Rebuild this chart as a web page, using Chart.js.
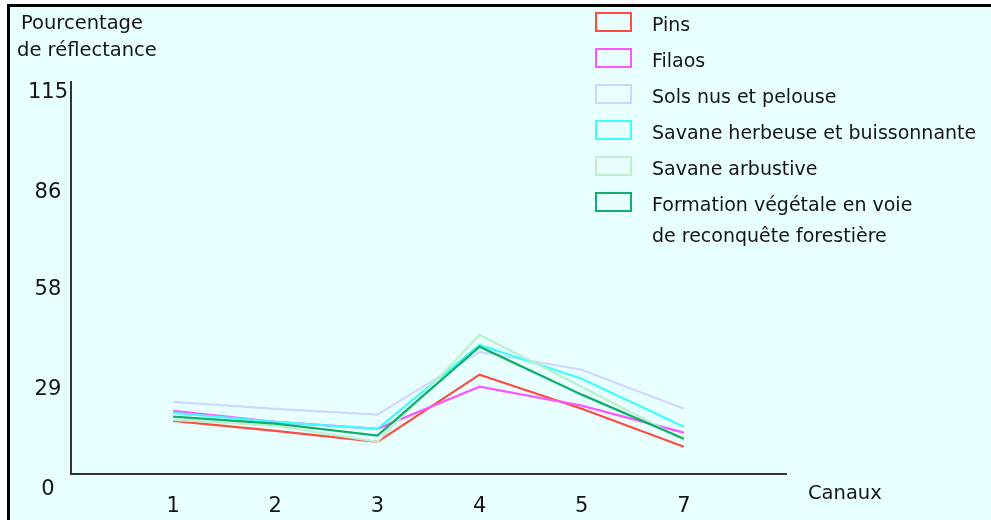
<!DOCTYPE html>
<html>
<head>
<meta charset="utf-8">
<script src="https://cdn.jsdelivr.net/npm/chart.js@4"></script>
<style>
    body { margin: 0; background: #fff; width: 991px; height: 520px; overflow: hidden; font-family: "DejaVu Sans", sans-serif; color: #151515; }
    #frame { position: absolute; left: 7px; top: 4px; width: 990px; height: 520px; border-left: 3px solid #000; border-top: 3px solid #000; background: #e8ffff; }
    #chart-wrapper { position: absolute; left: 0; top: 0; width: 991px; height: 520px; }
    .txt { position: absolute; font-size: 19.5px; line-height: 27px; white-space: nowrap; }
    #legend { position: absolute; left: 595px; top: 12px; }
    .row { display: flex; align-items: flex-start; margin-bottom: 8px; }
    .box { width: 37px; height: 20px; box-sizing: border-box; border: 2px solid; flex: none; }
    .label { margin-left: 20px; font-size: 19px; line-height: 31px; margin-top: -3px; }
</style>
</head>
<body>
<div id="frame"></div>
<div id="chart-wrapper"><canvas id="chart" width="991" height="520"></canvas></div>
<div class="txt" style="left:21px; top:9px;">Pourcentage</div>
<div class="txt" style="left:17px; top:36px;">de réflectance</div>
<div class="txt" style="left:808px; top:479px;">Canaux</div>
<div id="legend"></div>
<script>
// canaux (axe des x)
var channels = ['1', '2', '3', '4', '5', '7'];
var yTicks = [0, 29, 58, 86, 115];

var seriesNames = [
    'Pins',
    'Filaos',
    'Sols nus et pelouse',
    'Savane herbeuse et buissonnante',
    'Savane arbustive',
    'Formation végétale en voie\nde reconquête forestière'
];
var seriesColors = ['#ff4a3d', '#ff55ff', '#d0d7ff', '#3ffcff', '#bdf0cf', '#0fae6a'];

// pourcentage de réflectance par canal
var pins       = [18.8, 15.9, 12.7, 32.2, 22.3, 11.3];
var filaos     = [21.7, 18.5, 16.5, 28.7, 23.2, 15.4];
var solsNus    = [24.3, 22.3, 20.6, 38.8, 33.6, 22.3];
var savaneHerb = [21.1, 18.5, 16.5, 40.8, 31.0, 17.1];
var savaneArb  = [19.1, 17.4, 12.7, 43.7, 28.7, 13.3];
var formation  = [20.0, 18.0, 14.5, 40.3, 26.4, 13.6];

var allSeries = [pins, filaos, solsNus, savaneHerb, savaneArb, formation];

var datasets = [];
for (var i = 0; i < allSeries.length; i++) {
    datasets.push({
        label: seriesNames[i],
        data: allSeries[i].map(function(v, k) { return {x: k + 1, y: v}; }),
        borderColor: seriesColors[i],
        backgroundColor: seriesColors[i],
        borderWidth: 2.2,
        pointRadius: 0,
        tension: 0,
        fill: false,
        order: allSeries.length - i
    });
}

// legende en html
var legend = document.getElementById('legend');
for (var j = 0; j < seriesNames.length; j++) {
    var row = document.createElement('div');
    row.className = 'row';
    var box = document.createElement('div');
    box.className = 'box';
    box.style.borderColor = seriesColors[j];
    var lab = document.createElement('div');
    lab.className = 'label';
    lab.innerHTML = seriesNames[j].replace('\n', '<br>');
    row.appendChild(box);
    row.appendChild(lab);
    legend.appendChild(row);
}

var ctx = document.getElementById('chart');
var chart = new Chart(ctx, {
    type: 'line',
    data: { datasets: datasets },
    options: {
        responsive: false,
        animation: false,
        events: [],
        layout: { padding: { left: 0, top: 82, right: 205, bottom: 0 } },
        plugins: { legend: { display: false }, tooltip: { enabled: false } },
        scales: {
            x: {
                type: 'linear',
                min: 0,
                max: 7,
                afterBuildTicks: function(scale) {
                    scale.ticks = channels.map(function(c, k) { return {value: k + 1}; });
                },
                afterFit: function(scale) { scale.height = 46; },
                ticks: {
                    color: '#151515',
                    padding: 20,
                    font: { family: 'DejaVu Sans', size: 21 },
                    callback: function(v) { return channels[v - 1]; }
                },
                grid: { display: false, drawTicks: false },
                border: { display: true, color: '#333', width: 2 }
            },
            y: {
                type: 'linear',
                min: 3.4,
                max: 117.0,
                afterBuildTicks: function(scale) {
                    scale.ticks = yTicks.map(function(v) { return {value: v}; });
                },
                afterFit: function(scale) { scale.width = 71; },
                ticks: {
                    color: '#151515',
                    padding: 3,
                    crossAlign: 'center',
                    // empty first line pushes the label a few px down
                    font: { family: 'DejaVu Sans', size: 21, lineHeight: '7px' },
                    callback: function(v) { return ['', String(v)]; }
                },
                grid: { display: false, drawTicks: false },
                border: { display: true, color: '#333', width: 2 }
            }
        }
    }
});
</script>
</body>
</html>
